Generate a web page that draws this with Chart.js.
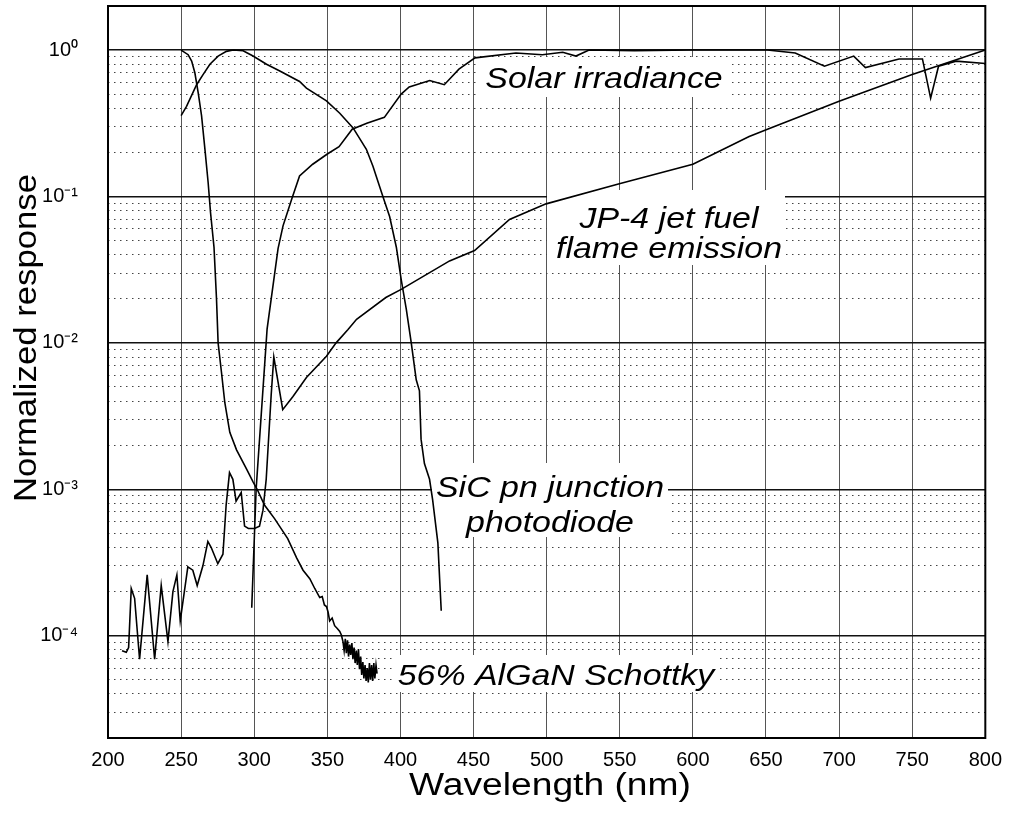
<!DOCTYPE html>
<html>
<head>
<meta charset="utf-8">
<title>Normalized response vs wavelength</title>
<script src="https://cdn.jsdelivr.net/npm/chart.js@4.4.1/dist/chart.umd.min.js"></script>
<style>
  body { margin: 0; background: #fff; }
  #chart-wrap { width: 1012px; height: 814px; }
</style>
</head>
<body>
<div id="chart-wrap"><canvas id="response-chart" width="1012" height="814"></canvas></div>
<script>
// wavelength (nm) / normalized response
const solarNm = [298.3, 301.3, 308.8, 316.3, 319.7, 325.5, 331, 340, 350, 358, 367, 377, 389, 400.5, 406, 420, 430, 440, 451, 479, 497, 511, 520, 529, 560, 600, 651, 670, 690, 710, 718, 741, 757, 762.6, 768, 780, 800];
const solarResponse = [1.55e-4, 1.0e-3, 0.0124, 0.044, 0.063, 0.095, 0.138, 0.166, 0.195, 0.219, 0.288, 0.316, 0.347, 0.5, 0.56, 0.62, 0.58, 0.74, 0.885, 0.955, 0.93, 0.966, 0.91, 1.0, 0.99, 1.0, 1.0, 0.955, 0.776, 0.91, 0.76, 0.87, 0.87, 0.47, 0.776, 0.84, 0.81];

const jetNm = [209.6, 212.5, 214.1, 215.9, 218.2, 221.6, 226.8, 231.9, 236.4, 241, 244.4, 247.1, 249.4, 254.6, 258, 261, 264.9, 268.3, 270.6, 275.1, 278.6, 280.8, 283.1, 285.4, 287.6, 291.1, 293.4, 296, 300.2, 303.6, 306, 308.2, 311.6, 313.4, 319.5, 326.5, 335.7, 349.4, 356, 364, 370, 390, 400.5, 433.6, 450.7, 474.6, 499.6, 549.7, 600, 638.5, 651, 700, 750, 800];
const jetResponse = [7.9e-5, 7.7e-5, 8.3e-5, 2.1e-4, 1.8e-4, 6.9e-5, 2.6e-4, 6.9e-5, 2.2e-4, 9.1e-5, 2.0e-4, 2.6e-4, 1.26e-4, 2.95e-4, 2.8e-4, 2.2e-4, 3.0e-4, 4.4e-4, 4.0e-4, 3.1e-4, 3.6e-4, 7.8e-4, 1.3e-3, 1.17e-3, 8.3e-4, 9.5e-4, 5.6e-4, 5.4e-4, 5.4e-4, 5.6e-4, 7.2e-4, 1.17e-3, 4.4e-3, 8.0e-3, 3.5e-3, 4.3e-3, 5.8e-3, 8.1e-3, 0.01, 0.0123, 0.0145, 0.0204, 0.0232, 0.0363, 0.0427, 0.0697, 0.089, 0.122, 0.166, 0.257, 0.288, 0.447, 0.68, 1.0];

const sicNm = [250, 253.7, 260.6, 265, 269.7, 275.3, 281, 285.6, 292.4, 299.2, 308.4, 317.5, 331, 335.7, 349.4, 358.5, 367.6, 376.7, 381.2, 388, 392.6, 397.2, 400.5, 404, 407.4, 410.8, 413, 414.1, 416.4, 419.9, 422, 425.6, 426.8, 427.9];
const sicResponse = [0.357, 0.413, 0.58, 0.68, 0.8, 0.91, 0.98, 1.0, 0.99, 0.91, 0.8, 0.72, 0.61, 0.55, 0.45, 0.37, 0.294, 0.21, 0.161, 0.1, 0.073, 0.045, 0.0271, 0.017, 0.01, 0.0056, 0.0047, 0.0022, 0.0015, 0.00117, 0.00085, 0.00043, 0.000245, 0.000148];

const alganNm = [250, 254.8, 257.2, 259.4, 261.7, 264, 266.3, 268.5, 270.1, 272.5, 274.2, 275.3, 277.6, 279.9, 283.3, 287.9, 294.7, 299.3, 302, 307, 313.9, 322.9, 329, 333.4, 338, 341.4, 344.8, 346.5, 348, 349.4, 350.5, 351.6, 353.3, 355, 356.8, 358.5, 359.6, 360.7,
  361.5, 362.3, 363, 363.8, 364.5, 365.3, 366, 366.8, 367.5, 368.3, 369, 369.8, 370.5, 371.3, 372, 372.8, 373.5, 374.3, 375, 375.8, 376.5, 377.3, 378, 378.8, 379.5, 380.3, 381, 381.8, 382.5, 383.3, 384];
const alganResponse = [1.0, 0.93, 0.84, 0.7, 0.51, 0.355, 0.21, 0.124, 0.078, 0.045, 0.02, 0.01, 0.0063, 0.0039, 0.00245, 0.00186, 0.00138, 0.00112, 0.001, 0.00078, 0.00063, 0.00046, 0.00034, 0.00028, 0.000245, 0.00021, 0.000182, 0.000185, 0.000162, 0.000158, 0.000145, 0.000126, 0.000132, 0.000117, 0.000112, 0.000107, 0.000101, 0.000091,
  7.9e-5, 9.5e-5, 7.6e-5, 9.3e-5, 7.2e-5, 8.7e-5, 7.4e-5, 8.9e-5, 6.9e-5, 8.3e-5, 6.5e-5, 7.9e-5, 6.3e-5, 8.1e-5, 5.9e-5, 7.2e-5, 5.4e-5, 6.6e-5, 5.1e-5, 6.3e-5, 4.9e-5, 6.0e-5, 4.8e-5, 6.5e-5, 5.0e-5, 6.3e-5, 4.9e-5, 6.5e-5, 5.1e-5, 6.3e-5, 5.5e-5];

const xTickStep = 50;
const yDecades = [1e-4, 1e-3, 1e-2, 1e-1, 1];
const yMin = 2e-5;
const yMax = 2;

const superDigits = { '0': '\u2070', '1': '\u00B9', '2': '\u00B2', '3': '\u00B3', '4': '\u2074', '-': '\u207B' };

function toPoints(xs, ys) {
  return xs.map((x, i) => ({ x: x, y: ys[i] }));
}

function isDecade(v) {
  const l = Math.log10(v);
  return Math.abs(l - Math.round(l)) < 1e-6;
}

// decades plus the 2..9 minor lines in between
function buildLogTicks() {
  const ticks = [];
  for (let e = -5; e <= 0; e++) {
    for (let m = 1; m <= 9; m++) {
      const v = m * Math.pow(10, e);
      if (v > yMin * 1.01 && v < yMax * 0.99) ticks.push({ value: v });
    }
  }
  return ticks;
}

function decadeLabel(v) {
  const exp = String(Math.round(Math.log10(v)));
  return '10' + exp.split('').map(c => superDigits[c]).join('');
}

const curveLabels = [
  { lines: ['Solar irradiance'], cx: 604, baselines: [88], box: [478, 57, 730, 97] },
  { lines: ['JP-4 jet fuel', 'flame emission'], cx: 669, baselines: [228, 258], box: [547, 190, 785, 265] },
  { lines: ['SiC pn junction', 'photodiode'], cx: 550, baselines: [497, 532], box: [432, 463, 668, 537] },
  { lines: ['56% AlGaN Schottky'], cx: 556, baselines: [685], box: [395, 655, 720, 692] }
];

function drawStretched(ctx, text, x, y, font, sx, rotate) {
  ctx.save();
  ctx.translate(x, y);
  if (rotate) ctx.rotate(-Math.PI / 2);
  ctx.scale(sx, 1);
  ctx.font = font;
  ctx.textAlign = 'center';
  ctx.fillText(text, 0, 0);
  ctx.restore();
}

const decorPlugin = {
  id: 'decor',
  beforeDatasetsDraw(chart) {
    const ctx = chart.ctx;
    ctx.save();
    ctx.fillStyle = '#fff';
    curveLabels.forEach(l => ctx.fillRect(l.box[0], l.box[1], l.box[2] - l.box[0], l.box[3] - l.box[1]));
    ctx.fillStyle = '#000';
    ctx.textBaseline = 'alphabetic';
    curveLabels.forEach(l => {
      l.lines.forEach((t, i) => drawStretched(ctx, t, l.cx, l.baselines[i], 'italic 30px "Liberation Sans", Arial, sans-serif', 1.13, false));
    });
    ctx.restore();
  },
  afterDraw(chart) {
    const ctx = chart.ctx;
    const a = chart.chartArea;
    ctx.save();
    ctx.strokeStyle = '#000';
    ctx.lineWidth = 2;
    ctx.strokeRect(a.left, a.top, a.right - a.left, a.bottom - a.top);
    ctx.fillStyle = '#000';
    ctx.textBaseline = 'middle';
    drawStretched(ctx, 'Wavelength (nm)', 550, 786, '31px "Liberation Sans", Arial, sans-serif', 1.2, false);
    drawStretched(ctx, 'Normalized response', 27, 338, '31px "Liberation Sans", Arial, sans-serif', 1.12, true);
    ctx.restore();
  }
};

function lineSet(label, xs, ys) {
  return {
    label: label,
    data: toPoints(xs, ys),
    showLine: true,
    borderColor: '#000',
    borderWidth: 1.6,
    pointRadius: 0,
    tension: 0,
    fill: false
  };
}

new Chart(document.getElementById('response-chart'), {
  type: 'scatter',
  data: {
    datasets: [
      lineSet('Solar irradiance', solarNm, solarResponse),
      lineSet('JP-4 jet fuel flame emission', jetNm, jetResponse),
      lineSet('SiC pn junction photodiode', sicNm, sicResponse),
      lineSet('56% AlGaN Schottky', alganNm, alganResponse)
    ]
  },
  options: {
    responsive: false,
    animation: false,
    layout: { padding: { top: 6, right: 25, left: 0, bottom: 0 } },
    plugins: {
      legend: { display: false },
      tooltip: { enabled: false }
    },
    scales: {
      x: {
        type: 'linear',
        min: 200,
        max: 800,
        afterFit: scale => { scale.height = 76; },
        ticks: {
          stepSize: xTickStep,
          color: '#000',
          padding: 10,
          font: { family: '"Liberation Sans", Arial, sans-serif', size: 20 }
        },
        grid: { color: '#555', lineWidth: 1, drawTicks: false },
        border: { display: false }
      },
      y: {
        type: 'logarithmic',
        min: yMin,
        max: yMax,
        afterFit: scale => {
          scale.width = 108;
          scale.paddingTop = 0;
          scale.paddingBottom = 0;
        },
        afterBuildTicks: scale => { scale.ticks = buildLogTicks(); },
        ticks: {
          autoSkip: false,
          color: '#000',
          padding: 30,
          font: { family: '"Liberation Sans", Arial, sans-serif', size: 20 },
          callback: value => (yDecades.some(d => Math.abs(d - value) / d < 1e-6) ? decadeLabel(value) : '')
        },
        grid: {
          drawTicks: false,
          color: ctx => (ctx.tick && isDecade(ctx.tick.value) ? '#111' : '#444'),
          lineWidth: ctx => (ctx.tick && isDecade(ctx.tick.value) ? 1.5 : 1)
        },
        border: {
          display: false,
          dash: ctx => (ctx.tick && !isDecade(ctx.tick.value) ? [1.5, 4.5] : [])
        }
      }
    }
  },
  plugins: [decorPlugin]
});
</script>
</body>
</html>
